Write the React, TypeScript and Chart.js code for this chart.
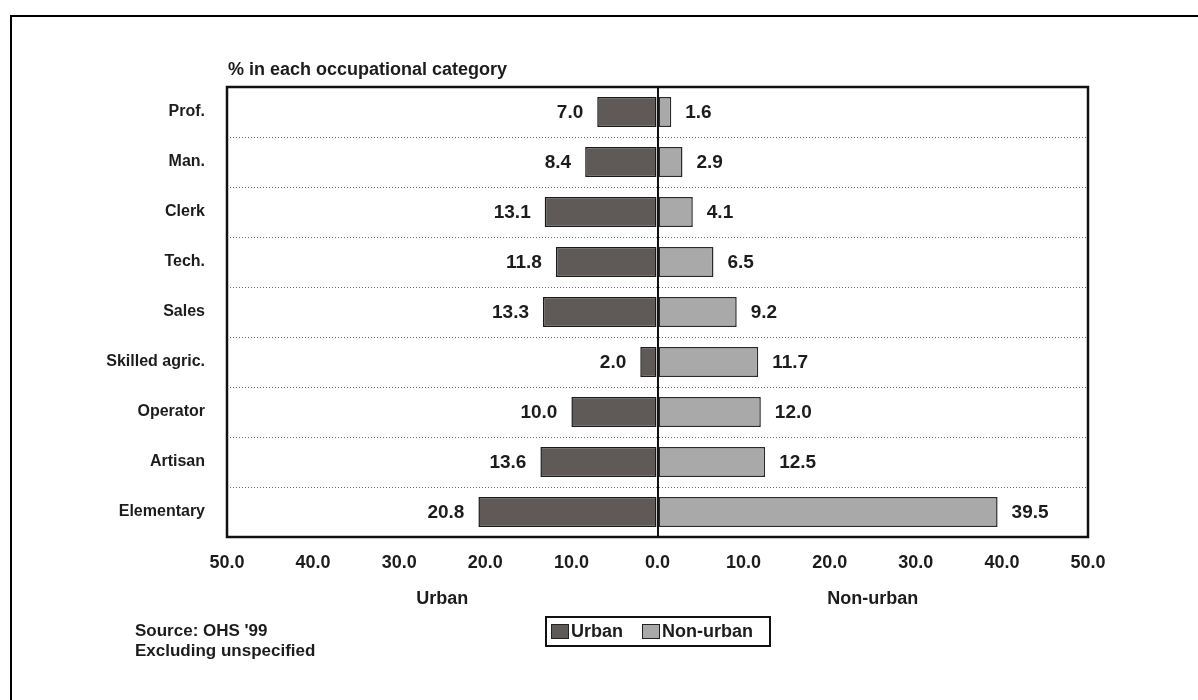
import React, { useEffect, useRef } from "react";
import { Chart, registerables } from "chart.js";

Chart.register(...registerables);

const categories = ["Prof.", "Man.", "Clerk", "Tech.", "Sales", "Skilled agric.", "Operator", "Artisan", "Elementary"];
const urbanValues = [7.0, 8.4, 13.1, 11.8, 13.3, 2.0, 10.0, 13.6, 20.8];
const nonUrbanValues = [1.6, 2.9, 4.1, 6.5, 9.2, 11.7, 12.0, 12.5, 39.5];
const seriesNames = ["Urban", "Non-urban"];
const axisMax = 50;
const axisStep = 10;
const chartTitle = "% in each occupational category";
const sourceLines = ["Source: OHS '99", "Excluding unspecified"];

const URBAN_COLOR = "#5f5a58";
const NONURBAN_COLOR = "#a9a9a9";
const TEXT_COLOR = "#1c1c1c";
const FONT_FAMILY = "'Liberation Sans', Arial, Helvetica, sans-serif";

const decorPlugin = {
  id: "decor",
  beforeDraw(chart: any) {
    const ctx = chart.ctx;
    ctx.save();
    ctx.fillStyle = "#fff";
    ctx.fillRect(0, 0, chart.width, chart.height);
    ctx.restore();
  },
  afterDatasetsDraw(chart: any) {
    const ctx = chart.ctx;
    const area = chart.chartArea;
    ctx.save();
    // plot box
    ctx.strokeStyle = "#111";
    ctx.lineWidth = 2.5;
    ctx.strokeRect(area.left, area.top, area.right - area.left, area.bottom - area.top);

    // value labels
    ctx.font = `bold 19px ${FONT_FAMILY}`;
    ctx.fillStyle = TEXT_COLOR;
    ctx.textBaseline = "middle";
    const m0 = chart.getDatasetMeta(0);
    const m1 = chart.getDatasetMeta(1);
    m0.data.forEach((el: any, i: number) => {
      ctx.textAlign = "right";
      ctx.fillText(urbanValues[i].toFixed(1), el.x - 14, el.y + 1);
    });
    m1.data.forEach((el: any, i: number) => {
      ctx.textAlign = "left";
      ctx.fillText(nonUrbanValues[i].toFixed(1), el.x + 14, el.y + 1);
    });
    ctx.restore();
  },
  afterDraw(chart: any) {
    const ctx = chart.ctx;
    const area = chart.chartArea;
    const xs = chart.scales.x;
    const center = xs.getPixelForValue(0);
    ctx.save();
    // outer frame (extends past canvas on right/bottom)
    ctx.strokeStyle = "#000";
    ctx.lineWidth = 2;
    ctx.beginPath();
    ctx.moveTo(11, chart.height + 5);
    ctx.lineTo(11, 16);
    ctx.lineTo(chart.width + 5, 16);
    ctx.stroke();

    ctx.fillStyle = TEXT_COLOR;
    // title
    ctx.font = `bold 18px ${FONT_FAMILY}`;
    ctx.textAlign = "left";
    ctx.textBaseline = "middle";
    ctx.fillText(chartTitle, area.left + 1, 70);

    // axis titles
    ctx.font = `bold 18px ${FONT_FAMILY}`;
    ctx.textAlign = "center";
    ctx.fillText(seriesNames[0], (area.left + center) / 2, 599);
    ctx.fillText(seriesNames[1], (area.right + center) / 2, 599);

    // source
    ctx.font = `bold 17px ${FONT_FAMILY}`;
    ctx.textAlign = "left";
    ctx.fillText(sourceLines[0], 135, 631);
    ctx.fillText(sourceLines[1], 135, 651);

    // legend
    const lx = 546, ly = 617, lw = 224, lh = 29;
    ctx.strokeStyle = "#111";
    ctx.lineWidth = 2;
    ctx.strokeRect(lx, ly, lw, lh);
    ctx.lineWidth = 1;
    ctx.font = `bold 18px ${FONT_FAMILY}`;
    const items = [
      { x: 551, color: URBAN_COLOR, label: seriesNames[0] },
      { x: 642, color: NONURBAN_COLOR, label: seriesNames[1] },
    ];
    items.forEach((it) => {
      ctx.fillStyle = it.color;
      ctx.fillRect(it.x, 624, 17, 14);
      ctx.strokeStyle = "#222";
      ctx.strokeRect(it.x + 0.5, 624.5, 17, 14);
      ctx.fillStyle = TEXT_COLOR;
      ctx.textAlign = "left";
      ctx.fillText(it.label, it.x + 20, 632);
    });
    ctx.restore();
  },
};

export default function App() {
  const canvasRef = useRef<HTMLCanvasElement | null>(null);

  useEffect(() => {
    if (!canvasRef.current) return;
    const chart = new Chart(canvasRef.current, {
      type: "bar",
      data: {
        labels: categories,
        datasets: [
          {
            label: seriesNames[0],
            data: urbanValues.map((v) => -v),
            backgroundColor: URBAN_COLOR,
            borderColor: "#1a1a1a",
            borderWidth: 1.5,
            borderSkipped: false,
            barPercentage: 0.6,
            categoryPercentage: 1.0,
          },
          {
            label: seriesNames[1],
            data: nonUrbanValues,
            backgroundColor: NONURBAN_COLOR,
            borderColor: "#2a2a2a",
            borderWidth: 1.5,
            borderSkipped: false,
            barPercentage: 0.6,
            categoryPercentage: 1.0,
          },
        ],
      },
      options: {
        indexAxis: "y",
        responsive: false,
        animation: false,
        layout: { padding: { top: 87, right: 110, left: 0, bottom: 0 } },
        plugins: {
          legend: { display: false },
          tooltip: { enabled: false },
          title: { display: false },
        },
        scales: {
          x: {
            type: "linear",
            stacked: true,
            min: -axisMax,
            max: axisMax,
            afterFit: (scale: any) => {
              scale.height = 163;
            },
            ticks: {
              stepSize: axisStep,
              padding: 15,
              color: TEXT_COLOR,
              font: { family: FONT_FAMILY, size: 18, weight: "bold" },
              callback: (v: any) => Math.abs(Number(v)).toFixed(1),
              maxRotation: 0,
              autoSkip: false,
            },
            grid: {
              drawTicks: false,
              color: (c: any) => (c.tick && c.tick.value === 0 ? "#111" : "rgba(0,0,0,0)"),
              lineWidth: (c: any) => (c.tick && c.tick.value === 0 ? 2 : 0),
            },
            border: { display: false },
          },
          y: {
            stacked: true,
            afterFit: (scale: any) => {
              scale.width = 227;
            },
            ticks: {
              padding: 22,
              color: TEXT_COLOR,
              font: { family: FONT_FAMILY, size: 16, weight: "bold" },
            },
            grid: {
              offset: true,
              drawTicks: false,
              color: "#666",
              lineWidth: 1,
            },
            border: { display: false, dash: [1, 2] },
          },
        },
      },
      plugins: [decorPlugin],
    } as any);
    return () => chart.destroy();
  }, []);

  return (
    <div style={{ position: "fixed", left: 0, top: 0, width: 1198, height: 700, background: "#fff" }}>
      <canvas ref={canvasRef} width={1198} height={700} style={{ display: "block" }} />
    </div>
  );
}
